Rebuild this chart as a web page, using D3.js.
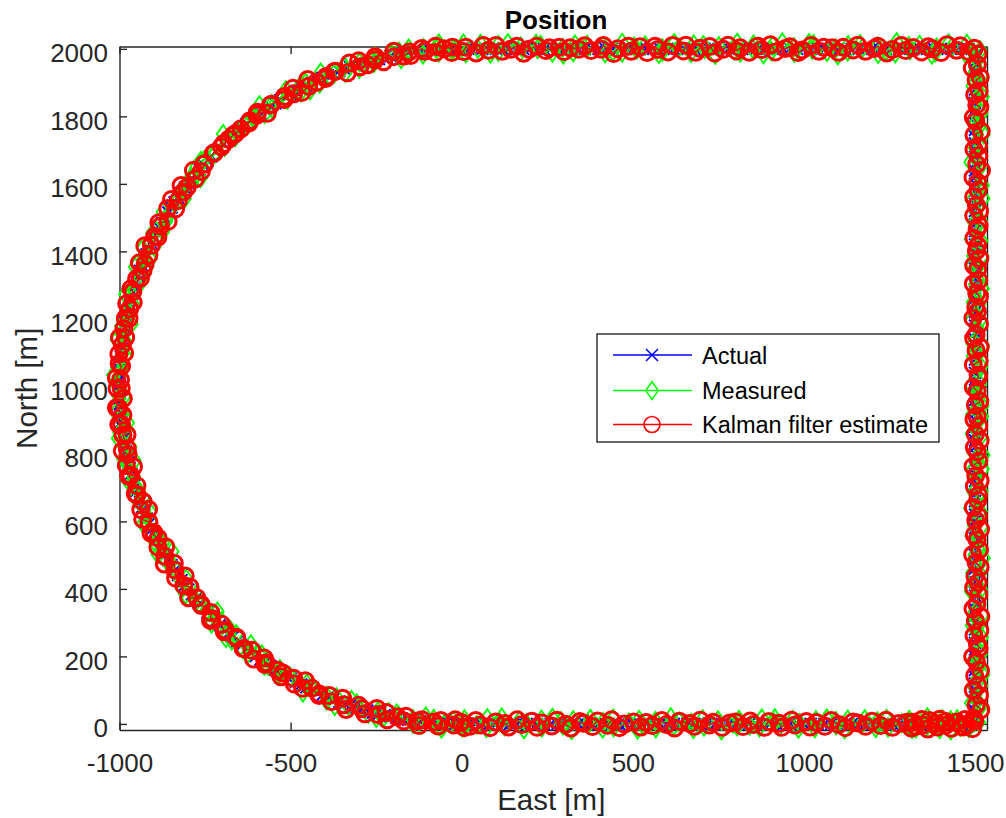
<!DOCTYPE html>
<html><head><meta charset="utf-8">
<script src="https://cdn.jsdelivr.net/npm/d3@7"></script>
<style>html,body{margin:0;padding:0;background:#fff;} svg{display:block;font-family:"Liberation Sans",Arial,Helvetica,sans-serif;}</style>
</head><body>
<svg id="chart" width="1006" height="818"></svg>
<script>
// ---- Data ----
// Point order: bottom edge (eastward), right edge (northward), top edge (westward), western arc (southward)
const actualEast = [
0,20,40,60,80,100,120,140,160,180,200,220,240,260,280,300,320,340,360,380,400,420,440,460,480,500,520,540,560,580,600,620,640,660,680,700,720,740,760,780,800,820,840,860,880,900,920,940,960,980,1000,1020,1040,1060,1080,1100,1120,1140,1160,1180,1200,1220,1240,1260,1280,1300,
1310,1320,1330,1340,1350,1360,1370,1380,1390,1400,1410,1420,1430,1440,1450,1460,1470,1480,1490,1500,
1500,1500,1500,1500,1500,1500,1500,1500,1500,1500,1500,1500,1500,1500,1500,1500,1500,1500,1500,1500,1500,1500,1500,1500,1500,1500,1500,1500,1500,1500,1500,1500,1500,1500,1500,1500,1500,1500,1500,1500,1500,1500,1500,1500,1500,1500,1500,1500,1500,1500,
1500,1500,1500,1500,1500,1500,1500,1500,1500,1500,1500,1500,1500,1500,1500,1500,1500,1500,1500,1500,1500,1500,1500,1500,1500,1500,1500,1500,1500,1500,1500,1500,1500,1500,1500,1500,1500,1500,1500,1500,1500,1500,1500,1500,1500,1500,1500,1500,1500,1500,
1480,1460,1440,1420,1400,1380,1360,1340,1320,1300,1280,1260,1240,1220,1200,1180,1160,1140,1120,1100,1080,1060,1040,1020,1000,980,960,940,920,900,880,860,840,820,800,780,760,740,720,700,680,660,640,620,600,580,560,540,520,500,480,460,440,420,400,380,360,340,320,300,280,260,240,220,200,180,160,140,120,100,80,60,40,20,0,
-17,-35,-52,-70,-87,-105,-122,-139,-156,-174,-191,-208,-225,-242,-259,-276,-292,-309,-326,-342,-358,-375,-391,-407,-423,-438,-454,-469,-485,-500,-515,-530,-545,-559,-574,-588,-602,-616,-629,-643,-656,-669,-682,-695,-707,-719,-731,-743,-755,-766,-777,-788,-799,-809,-819,-829,-839,-848,-857,-866,-875,-883,-891,-899,-906,-914,-921,-927,-934,-940,-946,-951,-956,-961,-966,-970,-974,-978,-982,-985,-988,-990,-993,-995,-996,-998,-999,-999,-1000,-1000,
-1000,-999,-999,-998,-996,-995,-993,-990,-988,-985,-982,-978,-974,-970,-966,-961,-956,-951,-946,-940,-934,-927,-921,-914,-906,-899,-891,-883,-875,-866,-857,-848,-839,-829,-819,-809,-799,-788,-777,-766,-755,-743,-731,-719,-707,-695,-682,-669,-656,-643,-629,-616,-602,-588,-574,-559,-545,-530,-515,-500,-485,-469,-454,-438,-423,-407,-391,-375,-358,-342,-326,-309,-292,-276,-259,-242,-225,-208,-191,-174,-156,-139,-122,-105,-87,-70,-52,-35,-17,0
];
const actualNorth = [
0,0,0,0,0,0,0,0,0,0,0,0,0,0,0,0,0,0,0,0,0,0,0,0,0,0,0,0,0,0,0,0,0,0,0,0,0,0,0,0,0,0,0,0,0,0,0,0,0,0,0,0,0,0,0,0,0,0,0,0,0,0,0,0,0,0,
0,0,0,0,0,0,0,0,0,0,0,0,0,0,0,0,0,0,0,0,
20,40,60,80,100,120,140,160,180,200,220,240,260,280,300,320,340,360,380,400,420,440,460,480,500,520,540,560,580,600,620,640,660,680,700,720,740,760,780,800,820,840,860,880,900,920,940,960,980,1000,
1020,1040,1060,1080,1100,1120,1140,1160,1180,1200,1220,1240,1260,1280,1300,1320,1340,1360,1380,1400,1420,1440,1460,1480,1500,1520,1540,1560,1580,1600,1620,1640,1660,1680,1700,1720,1740,1760,1780,1800,1820,1840,1860,1880,1900,1920,1940,1960,1980,2000,
2000,2000,2000,2000,2000,2000,2000,2000,2000,2000,2000,2000,2000,2000,2000,2000,2000,2000,2000,2000,2000,2000,2000,2000,2000,2000,2000,2000,2000,2000,2000,2000,2000,2000,2000,2000,2000,2000,2000,2000,2000,2000,2000,2000,2000,2000,2000,2000,2000,2000,2000,2000,2000,2000,2000,2000,2000,2000,2000,2000,2000,2000,2000,2000,2000,2000,2000,2000,2000,2000,2000,2000,2000,2000,2000,
2000,1999,1999,1998,1996,1995,1993,1990,1988,1985,1982,1978,1974,1970,1966,1961,1956,1951,1946,1940,1934,1927,1921,1914,1906,1899,1891,1883,1875,1866,1857,1848,1839,1829,1819,1809,1799,1788,1777,1766,1755,1743,1731,1719,1707,1695,1682,1669,1656,1643,1629,1616,1602,1588,1574,1559,1545,1530,1515,1500,1485,1469,1454,1438,1423,1407,1391,1375,1358,1342,1326,1309,1292,1276,1259,1242,1225,1208,1191,1174,1156,1139,1122,1105,1087,1070,1052,1035,1017,1000,
983,965,948,930,913,895,878,861,844,826,809,792,775,758,741,724,708,691,674,658,642,625,609,593,577,562,546,531,515,500,485,470,455,441,426,412,398,384,371,357,344,331,318,305,293,281,269,257,245,234,223,212,201,191,181,171,161,152,143,134,125,117,109,101,94,86,79,73,66,60,54,49,44,39,34,30,26,22,18,15,12,10,7,5,4,2,1,1,0,0
];
const measuredEast = [
7,8,44,75,72,111,117,125,169,182,189,233,234,265,296,291,321,326,370,376,412,413,443,444,488,514,518,530,566,567,611,620,635,677,671,704,708,749,759,793,
805,810,842,877,870,913,915,927,967,984,987,1035,1032,1067,1094,1093,1119,1128,1168,1178,1210,1215,1241,1246,1286,1316,
1308,1310,1336,1327,1361,1360,1365,1397,1381,1404,1398,1429,1429,1453,1457,1448,1474,1495,1482,1511,
1498,1515,1489,1507,1518,1494,1523,1500,1513,1487,1516,1504,1520,1491,1511,1521,1495,1509,1488,1517,1501,1514,1492,1525,1499,1512,1490,1508,1519,1497,1516,1486,1506,1496,1519,1502,1522,1493,1510,1524,
1496,1517,1491,1504,1520,1492,1521,1503,1511,1489,1514,1506,1518,1494,1509,1523,1493,1511,1490,1515,1503,1512,1494,1522,1501,1510,1492,1506,1521,1495,1518,1488,1504,1498,1517,1500,1524,1491,1512,1522,
1500,1513,1487,1509,1516,1496,1525,1498,1515,1489,1518,1502,1522,1493,1509,1519,1497,1507,1490,1515,
1476,1472,1433,1423,1384,1388,1374,1338,1310,1306,1267,1271,1240,1215,1217,1171,1164,1128,1129,1099,1093,1067,1028,1024,1015,972,971,937,905,909,882,849,853,814,805,796,751,741,706,710,
678,670,635,621,586,586,576,536,512,504,469,469,442,413,419,369,366,326,331,297,295,265,230,222,217,170,173,135,107,107,84,47,55,12,5,
-23,-28,-67,-67,-73,-113,-111,-158,-155,-183,-177,-211,-208,-254,-254,-257,-299,-299,-342,-340,-345,-386,-373,-412,-415,-456,-443,-470,-470,-514,-509,-514,-555,-555,-591,-576,-606,-607,-642,-623,
-662,-662,-697,-692,-693,-727,-720,-762,-754,-775,-763,-791,-782,-821,-814,-810,-846,-838,-873,-864,-862,-894,-873,-904,-898,-932,-910,-928,-919,-954,-940,-935,-966,-957,-983,-958,-978,-969,-995,-965,
-994,-983,-1008,-992,-982,-1006,-988,-1018,-999,-1009,-986,-1002,-982,-1010,-991,-976,-1000,-980,-1004,-983,-969,-989,-956,-975,-958,-979,-945,-952,-931,-954,-928,-911,-931,-910,-923,-887,-895,-874,-888,-846,
-863,-841,-854,-826,-805,-817,-788,-807,-776,-775,-741,-746,-714,-731,-702,-676,-689,-659,-672,-641,-616,-627,-584,-593,-566,-577,-534,-531,-500,-514,-479,-453,-464,-434,-440,-395,-395,-366,-371,-322,
-332,-302,-307,-273,-245,-250,-214,-227,-190,-183,-142,-142,-105,-117,-82,-51,-59,-25,-33,2
];
const measuredNorth = [
-9,14,-3,17,-12,5,19,-7,10,-16,2,13,-11,18,-5,8,-18,11,-1,15,-14,6,16,-10,4,-17,12,-4,9,-13,20,-6,7,-15,3,14,-8,11,-19,1,
-7,12,-5,16,-10,4,17,-9,12,-14,3,11,-13,16,-4,9,-16,13,-2,14,-12,8,15,-11,2,-15,
12,-4,9,-13,20,-6,7,-15,3,14,-8,11,-19,1,-9,14,-3,17,-12,5,
5,49,62,69,113,114,145,176,171,201,206,250,256,292,293,323,324,368,394,398,410,446,447,491,500,515,557,551,584,588,629,639,673,687,688,724,755,752,791,797,
803,851,860,871,911,916,943,978,969,1003,1008,1048,1058,1090,1095,1121,1126,1166,1196,1196,1212,1244,1249,1289,1302,1313,1359,1349,1386,1386,1431,1437,1475,1485,1490,1522,1557,1550,1593,1595,
1607,1647,1664,1667,1715,1712,1747,1774,1773,1799,1808,1848,1858,1890,1895,1921,1926,1966,1996,1996,
2015,1986,2006,2016,1990,2004,1983,2012,1996,2009,1987,2020,1994,2007,1985,2003,2014,1992,2011,1981,2001,1991,2014,1997,2017,1988,2005,2019,1993,2010,1984,2002,2013,1989,2018,1995,2008,1982,2011,1999,
2013,1988,2004,2017,1991,2002,1985,2010,1998,2007,1989,2018,1992,2009,1987,2005,2012,1990,2013,1983,2003,1989,2012,1999,2015,1990,2007,2017,1991,2012,1986,2000,2015,1987,2016,
2000,1994,2016,1989,2000,1983,2002,1989,2001,1992,1970,1982,1989,1962,1977,1958,1941,1960,1948,1929,1947,1921,1926,1930,1897,1900,1877,1893,1871,1878,1850,1851,1823,1837,1833,1807,1789,1794,1764,1777,
1755,1738,1748,1710,1711,1683,1691,1668,1669,1650,1617,1620,1617,1580,1585,1556,1530,1539,1517,1489,1498,1463,1459,1454,1414,1408,1377,1385,1354,1354,1319,1312,1276,1284,1273,1240,1215,1214,1178,1185,
1156,1134,1139,1096,1091,1058,1061,1034,1030,1007,971,969,963,922,924,892,863,870,846,815,822,786,780,774,732,725,694,701,670,670,635,628,593,601,591,560,536,537,502,511,
485,465,472,432,430,400,407,383,384,364,332,335,333,297,304,278,254,266,247,223,236,206,206,207,172,172,147,162,139,146,118,120,93,109,108,84,69,79,53,71,
54,44,61,30,38,18,35,21,31,22,0,14,22,-3,15,-1,-14,10,2,-11
];
const estimateEast = [
-2,24,41,55,83,99,126,137,162,176,205,220,234,263,278,304,319,345,356,382,397,426,438,461,475,503,524,539,557,585,598,622,636,666,680,697,724,735,761,783,
800,822,843,853,885,897,928,935,964,974,1007,1018,1036,1061,1080,1102,1121,1143,1158,1180,1199,1224,1240,1259,1277,1301,
1314,1319,1327,1345,1348,1362,1366,1386,1390,1397,1414,1415,1431,1443,1448,1464,1471,1475,1493,1499,
1496,1517,1503,1513,1495,1508,1499,1516,1504,1493,1512,1507,1497,1514,1501,1517,1494,1505,1511,1496,1509,1500,1515,1503,1493,1513,1506,1498,1516,1502,1510,1495,1508,1510,1498,1515,1502,1494,1511,1506,
1498,1515,1501,1511,1497,1506,1501,1514,1506,1495,1510,1509,1495,1512,1503,1515,1496,1503,1513,1494,1507,1502,1513,1505,1495,1511,1508,1496,1514,1504,1508,1497,1506,1512,1496,1513,1504,1496,1509,1508,
1494,1519,1505,1511,1497,1510,1497,1518,1502,1495,1514,1505,1499,1512,1503,1515,1492,1507,1509,1498,
1482,1457,1446,1418,1401,1375,1363,1344,1319,1297,1285,1258,1242,1216,1206,1180,1157,1144,1115,1101,1083,1058,1044,1021,995,983,959,946,917,902,876,865,840,814,803,778,764,739,725,696,
684,655,648,616,603,573,565,542,521,495,487,456,444,414,408,378,359,342,317,299,285,256,246,219,197,181,161,144,119,100,78,63,42,12,5,
-29,-27,-51,-77,-76,-108,-117,-149,-153,-169,-198,-198,-228,-253,-253,-275,-301,-297,-328,-334,-368,-372,-397,-396,-424,-450,-447,-467,-493,-491,-519,-518,-556,-559,-568,-597,-598,-621,-619,-645,
-668,-661,-681,-702,-696,-722,-726,-753,-752,-761,-784,-778,-802,-820,-813,-828,-848,-836,-859,-858,-885,-880,-897,-888,-907,-926,-914,-925,-942,-931,-950,-939,-967,-961,-960,-979,-970,-983,-972,-987,
-1000,-982,-992,-1002,-985,-1001,-994,-1009,-997,-995,-1007,-989,-1002,-1009,-990,-994,-1002,-978,-990,-977,-992,-975,-980,-959,-967,-973,-949,-949,-954,-931,-938,-915,-932,-914,-900,-908,-887,-888,-865,-868,
-869,-840,-838,-836,-808,-812,-794,-798,-774,-761,-762,-733,-734,-730,-701,-694,-691,-657,-658,-635,-639,-613,-608,-577,-575,-571,-538,-528,-523,-491,-489,-457,-465,-438,-417,-416,-387,-380,-348,-344,
-338,-301,-291,-283,-248,-245,-220,-218,-188,-169,-163,-129,-125,-116,-81,-69,-61,-23,-19,8
];
const estimateNorth = [
5,-7,10,-3,-11,6,1,-9,12,-2,8,-10,3,-6,11,-1,-12,7,2,-8,9,-4,12,-11,0,6,-9,4,-5,10,-2,-12,8,1,-7,11,-3,5,-10,3,
6,-8,9,-2,-10,7,2,-10,11,-3,7,-9,4,-7,10,-2,-11,6,3,-7,8,-5,11,-10,1,5,
-12,5,-7,13,-3,-15,10,1,-9,14,-4,7,-13,4,6,-9,13,-4,-14,8,
17,42,56,85,100,114,143,158,184,199,225,236,262,277,306,318,341,355,383,404,419,437,465,478,502,516,546,560,577,604,615,641,663,678,704,721,735,763,779,806,
819,840,858,883,902,912,945,956,986,997,1027,1034,1064,1075,1108,1116,1143,1153,1185,1202,1221,1235,1267,1276,1304,1314,1348,1358,1379,1402,1417,1439,1465,1476,1506,1519,1537,1561,1581,1604,
1619,1640,1658,1683,1702,1712,1745,1756,1786,1797,1827,1834,1864,1875,1908,1916,1943,1953,1985,2002,
1992,2009,1996,2012,1989,2000,2006,1991,2004,1995,2010,1998,1988,2008,2001,1993,2011,1997,2005,1990,2003,2005,1993,2010,1997,1989,2006,2001,1991,2012,1998,2008,1990,2003,1994,2011,1999,1988,2007,2002,
1990,2011,1994,2010,1991,1998,2008,1989,2006,1993,2008,2000,1986,2010,1999,1995,2009,1999,2003,1992,2005,2003,1995,2008,1999,1987,2008,1999,1993,2010,1996,2010,1988,2005,1992,
1989,2005,2000,1989,2008,1993,2001,1980,1991,1979,1993,1977,1962,1977,1968,1953,1965,1947,1958,1929,1934,1933,1912,1918,1901,1909,1889,1871,1883,1867,1850,1859,1836,1834,1809,1812,1804,1781,1787,1763,
1744,1749,1732,1710,1719,1693,1690,1659,1659,1637,1640,1615,1590,1595,1576,1551,1554,1526,1527,1489,1485,1475,1445,1442,1418,1417,1389,1363,1366,1343,1319,1320,1289,1281,1249,1245,1230,1201,1201,1171,
1145,1145,1123,1096,1099,1068,1060,1025,1020,994,994,964,936,937,915,887,887,857,856,815,809,798,766,762,736,734,706,679,682,659,635,636,606,598,567,565,551,524,525,497,
474,476,456,432,438,410,406,374,374,351,355,330,306,312,295,273,278,253,257,223,223,218,192,195,176,181,159,140,151,135,118,128,106,106,84,89,84,66,76,57,
43,55,45,30,46,28,34,12,21,9,23,9,-5,12,6,-6,10,-3,12,-11
];
const xTickValues = [-1000, -500, 0, 500, 1000, 1500];
const yTickValues = [0, 200, 400, 600, 800, 1000, 1200, 1400, 1600, 1800, 2000];
const xLimits = [-1000, 1535];
const yLimits = [-18, 2007];
const seriesNames = ["Actual", "Measured", "Kalman filter estimate"];
const titleText = "Position";
const xLabelText = "East [m]";
const yLabelText = "North [m]";

// ---- Layout ----
const plotLeft = 119.5, plotRight = 987, plotTop = 46.5, plotBottom = 730;
const axisColor = "#262626";
const lw = 1.4;

const svg = d3.select("#chart");
svg.append("rect").attr("width", 1006).attr("height", 818).attr("fill", "#fff");

const x = d3.scaleLinear().domain(xLimits).range([plotLeft, plotRight]);
const y = d3.scaleLinear().domain(yLimits).range([plotBottom, plotTop]);

function styleAxis(g) {
  g.attr("font-family", null).attr("font-size", 26);
  g.select(".domain").attr("stroke", axisColor).attr("stroke-width", 1.4);
  g.selectAll(".tick line").attr("stroke", axisColor).attr("stroke-width", 1.4);
  g.selectAll(".tick text").attr("fill", axisColor);
}

const gB = svg.append("g").attr("transform", `translate(0,${plotBottom})`)
  .call(d3.axisBottom(x).tickValues(xTickValues).tickSizeInner(-7.5).tickSizeOuter(0).tickFormat(d => String(d)));
styleAxis(gB);
gB.selectAll(".tick text").attr("y", 42).attr("dy", 0);

const gT = svg.append("g").attr("transform", `translate(0,${plotTop})`)
  .call(d3.axisTop(x).tickValues(xTickValues).tickSizeInner(-7.5).tickSizeOuter(0).tickFormat(""));
styleAxis(gT);

const gL = svg.append("g").attr("transform", `translate(${plotLeft},0)`)
  .call(d3.axisLeft(y).tickValues(yTickValues).tickSizeInner(-7.5).tickSizeOuter(0).tickFormat(d => String(d)));
styleAxis(gL);
gL.selectAll(".tick text").attr("x", -11.5).attr("y", 13).attr("dy", 0);

const gR = svg.append("g").attr("transform", `translate(${plotRight},0)`)
  .call(d3.axisRight(y).tickValues(yTickValues).tickSizeInner(-7.5).tickSizeOuter(0).tickFormat(""));
styleAxis(gR);

// Titles
svg.append("text").attr("x", 556).attr("y", 29).attr("text-anchor", "middle")
  .attr("font-size", 26).attr("font-weight", "bold").attr("fill", "#000").text(titleText);
svg.append("text").attr("x", (plotLeft + plotRight) / 2 - 2).attr("y", 810).attr("text-anchor", "middle")
  .attr("font-size", 29.5).attr("fill", axisColor).text(xLabelText);
svg.append("text").attr("transform", `translate(37,${(plotTop + plotBottom) / 2}) rotate(-90)`)
  .attr("text-anchor", "middle").attr("font-size", 29.5).attr("fill", axisColor).text(yLabelText);

// ---- Series ----
const markerPaths = {
  x: "M-6,-6L6,6M-6,6L6,-6",
  d: "M0,-9L6.3,0L0,9L-6.3,0Z"
};
const series = [
  { name: seriesNames[0], color: "#0000ff", marker: "x", mw: 2.0, east: actualEast, north: actualNorth },
  { name: seriesNames[1], color: "#00ff00", marker: "d", mw: 1.9, east: measuredEast, north: measuredNorth },
  { name: seriesNames[2], color: "#ff0000", marker: "o", mw: 3.0, east: estimateEast, north: estimateNorth }
];

const line = d3.line().x(d => x(d[0])).y(d => y(d[1]));

function drawMarker(sel, s) {
  if (s.marker === "o") {
    sel.append("circle").attr("r", 8).attr("fill", "none").attr("stroke", s.color).attr("stroke-width", s.mw);
  } else {
    sel.append("path").attr("d", markerPaths[s.marker]).attr("fill", "none").attr("stroke", s.color).attr("stroke-width", s.mw);
  }
}

series.forEach(s => {
  const n = Math.min(s.east.length, s.north.length);
  const pts = d3.range(n).map(i => [s.east[i], s.north[i]]);
  const g = svg.append("g");
  g.append("path").datum(pts).attr("d", line).attr("fill", "none").attr("stroke", s.color).attr("stroke-width", lw);
  g.selectAll("g.m").data(pts).join("g").attr("class", "m")
    .attr("transform", d => `translate(${x(d[0])},${y(d[1])})`)
    .each(function() { drawMarker(d3.select(this), s); });
});

// ---- Legend ----
const lg = svg.append("g");
lg.append("rect").attr("x", 597).attr("y", 334).attr("width", 342).attr("height", 108)
  .attr("fill", "#fff").attr("stroke", axisColor).attr("stroke-width", 1.4);
const rowY = [355, 390.5, 424.5];
const legendMarkerWidth = [1.5, 1.5, 1.6];
series.forEach((s, i) => {
  const r = lg.append("g");
  r.append("line").attr("x1", 613).attr("x2", 692).attr("y1", rowY[i]).attr("y2", rowY[i])
    .attr("stroke", s.color).attr("stroke-width", lw);
  const mk = r.append("g").attr("transform", `translate(652,${rowY[i]})`);
  drawMarker(mk, Object.assign({}, s, { mw: legendMarkerWidth[i] }));
  r.append("text").attr("x", 702).attr("y", rowY[i] + 8.5).attr("font-size", 23.5).attr("fill", "#000").text(s.name);
});
</script>
</body></html>
